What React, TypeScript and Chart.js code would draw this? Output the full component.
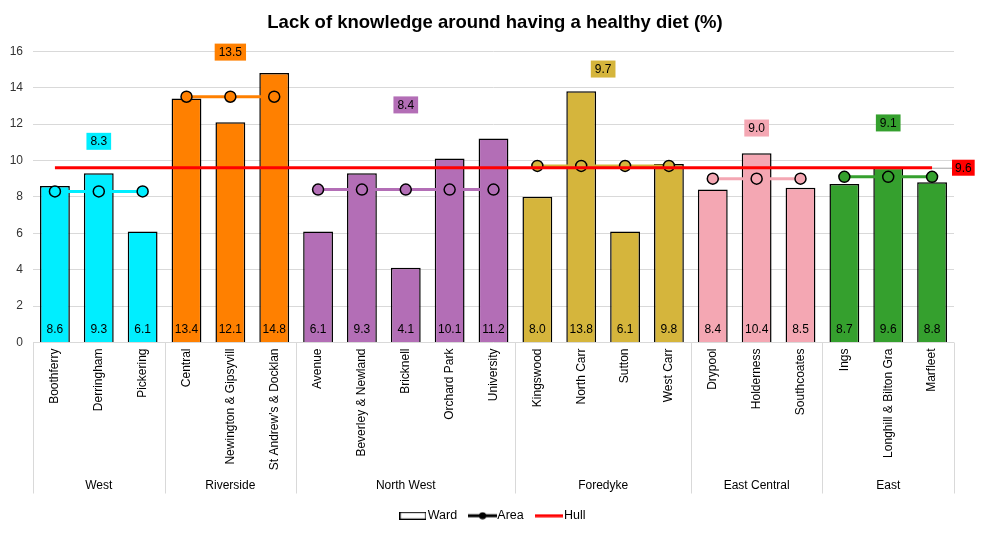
import React, { useEffect, useRef } from "react";
import { Chart, registerables } from "chart.js";

Chart.register(...registerables);

const titleText = "Lack of knowledge around having a healthy diet (%)";
const wards = [
  "Boothferry", "Derringham", "Pickering",
  "Central", "Newington & Gipsyvill", "St Andrew's & Docklan",
  "Avenue", "Beverley & Newland", "Bricknell", "Orchard Park", "University",
  "Kingswood", "North Carr", "Sutton", "West Carr",
  "Drypool", "Holderness", "Southcoates",
  "Ings", "Longhill & Bilton Gra", "Marfleet",
];
const wardValues = [
  8.6, 9.3, 6.1,
  13.4, 12.1, 14.8,
  6.1, 9.3, 4.1, 10.1, 11.2,
  8.0, 13.8, 6.1, 9.8,
  8.4, 10.4, 8.5,
  8.7, 9.6, 8.8,
];
const groups = ["West", "Riverside", "North West", "Foredyke", "East Central", "East"];
const groupSizes = [3, 3, 5, 4, 3, 3];
const areaValues = [8.3, 13.5, 8.4, 9.7, 9.0, 9.1];
const hullValue = 9.6;
const yTicks = [0, 2, 4, 6, 8, 10, 12, 14, 16];

const groupColors = ["#00EEFF", "#FF8000", "#B36EB6", "#D5B53C", "#F4A7B3", "#35A02E"];
const FONT = '"Liberation Sans", Arial, sans-serif';

const groupStarts: number[] = [];
{
  let s = 0;
  groupSizes.forEach((n) => { groupStarts.push(s); s += n; });
}
const groupOf = (i: number) => {
  let g = 0;
  for (let k = 0; k < groupStarts.length; k++) if (i >= groupStarts[k]) g = k;
  return g;
};

const decorPlugin = {
  id: "decor",
  afterDatasetsDraw(chart: any, _args: any, opts: any) {
    const { ctx, chartArea, scales } = chart;
    const x = scales.x, y = scales.y;
    ctx.save();
    ctx.font = `12px ${FONT}`;
    ctx.textAlign = "center";
    ctx.textBaseline = "middle";
    // ward values at bar bottoms
    ctx.fillStyle = "#000";
    wardValues.forEach((v, i) => {
      ctx.fillText(v.toFixed(1), x.getPixelForValue(i), chartArea.bottom - 13);
    });
    // area labels
    groups.forEach((_g, gi) => {
      const s = groupStarts[gi];
      const n = groupSizes[gi];
      const cx = (x.getPixelForValue(s) + x.getPixelForValue(s + n - 1)) / 2;
      const cy = y.getPixelForValue(opts.labelY[gi]);
      const txt = areaValues[gi].toFixed(1);
      const w = ctx.measureText(txt).width + 8;
      const h = 17;
      ctx.fillStyle = groupColors[gi];
      ctx.fillRect(cx - w / 2, cy - h / 2, w, h);
      ctx.fillStyle = "#000";
      ctx.fillText(txt, cx, cy + 0.5);
    });
    // hull label
    const hy = y.getPixelForValue(hullValue);
    const lastX = x.getPixelForValue(wards.length - 1);
    const htxt = hullValue.toFixed(1);
    const hw = ctx.measureText(htxt).width + 6;
    const bx = chartArea.right - 2;
    ctx.strokeStyle = "#A6A6A6";
    ctx.lineWidth = 1;
    ctx.beginPath();
    ctx.moveTo(lastX, hy + 0.5);
    ctx.lineTo(bx, hy + 0.5);
    ctx.stroke();
    ctx.fillStyle = "#FF0000";
    ctx.fillRect(bx, hy - 8, hw, 16);
    ctx.fillStyle = "#000";
    ctx.fillText(htxt, bx + hw / 2, hy + 0.5);
    ctx.restore();
  },
  afterDraw(chart: any) {
    const { ctx, chartArea, scales } = chart;
    const x = scales.x;
    ctx.save();
    ctx.strokeStyle = "#D9D9D9";
    ctx.lineWidth = 1;
    const bottom = chartArea.bottom + 151;
    const bounds: number[] = [chartArea.left];
    groupStarts.slice(1).forEach((s) => {
      bounds.push((x.getPixelForValue(s - 1) + x.getPixelForValue(s)) / 2);
    });
    bounds.push(chartArea.right);
    bounds.forEach((bx) => {
      const px = Math.round(bx) + 0.5;
      ctx.beginPath();
      ctx.moveTo(px, chartArea.bottom);
      ctx.lineTo(px, bottom);
      ctx.stroke();
    });
    ctx.font = `12px ${FONT}`;
    ctx.fillStyle = "#000";
    ctx.textAlign = "center";
    ctx.textBaseline = "middle";
    groups.forEach((g, gi) => {
      ctx.fillText(g, (bounds[gi] + bounds[gi + 1]) / 2, bottom - 8);
    });
    ctx.restore();
  },
};

function makeLegendIcons() {
  const ward = document.createElement("canvas");
  ward.width = 27; ward.height = 8;
  let c = ward.getContext("2d")!;
  c.fillStyle = "#fff";
  c.fillRect(0, 0, 27, 8);
  c.strokeStyle = "#000";
  c.lineWidth = 1.2;
  c.strokeRect(0.6, 0.6, 25.8, 6.8);

  const area = document.createElement("canvas");
  area.width = 29; area.height = 8;
  c = area.getContext("2d")!;
  c.strokeStyle = "#000";
  c.lineWidth = 3;
  c.beginPath(); c.moveTo(0, 4); c.lineTo(29, 4); c.stroke();
  c.fillStyle = "#000";
  c.beginPath(); c.arc(14.5, 4, 3.6, 0, Math.PI * 2); c.fill();

  const hull = document.createElement("canvas");
  hull.width = 28; hull.height = 4;
  c = hull.getContext("2d")!;
  c.fillStyle = "#FF0000";
  c.fillRect(0, 0.5, 28, 3);
  return { ward, area, hull };
}

export default function App() {
  const ref = useRef<HTMLCanvasElement | null>(null);
  useEffect(() => {
    if (!ref.current) return;
    const icons = makeLegendIcons();
    const areaDatasets = groups.map((g, gi) => ({
      type: "line" as const,
      label: `Area ${g}`,
      data: wards.map((_w, i) => (groupOf(i) === gi ? areaValues[gi] : null)),
      borderColor: groupColors[gi],
      backgroundColor: groupColors[gi],
      borderWidth: 3,
      pointRadius: 5.5,
      pointBorderWidth: 1.5,
      pointBorderColor: "#000",
      pointBackgroundColor: groupColors[gi],
      spanGaps: false,
      order: 1,
    }));
    const chart = new Chart(ref.current, {
      type: "bar",
      data: {
        labels: wards,
        datasets: [
          {
            type: "bar",
            label: "Ward",
            data: wardValues,
            backgroundColor: wardValues.map((_v, i) => groupColors[groupOf(i)]),
            borderColor: "#000",
            borderWidth: 1.5,
            barPercentage: 0.68,
            categoryPercentage: 1,
            order: 2,
          } as any,
          ...areaDatasets,
          {
            type: "line",
            label: "Hull",
            data: wards.map(() => hullValue),
            borderColor: "#FF0000",
            backgroundColor: "#FF0000",
            borderWidth: 3,
            pointRadius: 0,
            order: 0,
          },
        ],
      },
      options: {
        responsive: false,
        animation: false,
        devicePixelRatio: 1,
        layout: { padding: { left: 0, right: 0, top: 0, bottom: 1 } },
        plugins: {
          title: {
            display: true,
            text: titleText,
            color: "#000",
            font: { family: FONT, size: 18.5, weight: "bold" },
            padding: { top: 12, bottom: 17 },
          },
          legend: {
            display: true,
            position: "bottom",
            labels: {
              usePointStyle: true,
              pointStyleWidth: 17,
              padding: 17,
              color: "#000",
              font: { family: FONT, size: 12.5 },
              generateLabels: () => [
                { text: "Ward", pointStyle: icons.ward, fillStyle: "#fff", strokeStyle: "#000", lineWidth: 0, hidden: false, datasetIndex: 0 },
                { text: "Area", pointStyle: icons.area, fillStyle: "#000", strokeStyle: "#000", lineWidth: 0, hidden: false, datasetIndex: 1 },
                { text: "Hull", pointStyle: icons.hull, fillStyle: "#f00", strokeStyle: "#f00", lineWidth: 0, hidden: false, datasetIndex: 7 },
              ] as any,
            },
            onClick: () => {},
          },
          tooltip: { enabled: false },
          decor: { labelY: [11.05, 15.95, 13.05, 15.02, 11.78, 12.06] },
        } as any,
        scales: {
          x: {
            offset: true,
            grid: { display: false },
            border: { display: false },
            ticks: {
              autoSkip: false,
              minRotation: 90,
              maxRotation: 90,
              padding: -2,
              color: "#000",
              font: { family: FONT, size: 12 },
            },
            afterFit: (s: any) => { s.height = 150; },
          },
          y: {
            min: 0,
            max: 16,
            afterBuildTicks: (s: any) => { s.ticks = yTicks.map((v) => ({ value: v })); },
            grid: { color: "#D9D9D9", lineWidth: 1, drawTicks: false },
            border: { display: false },
            ticks: {
              padding: 10,
              color: "#333",
              font: { family: FONT, size: 12 },
            },
            afterFit: (s: any) => { s.width = 33; },
          },
          yRight: {
            position: "right",
            display: true,
            grid: { display: false, drawTicks: false },
            border: { display: false },
            ticks: { display: false },
            afterFit: (s: any) => { s.width = 36; },
          },
        },
      },
      plugins: [decorPlugin],
    });
    return () => chart.destroy();
  }, []);
  return (
    <div style={{ position: "absolute", left: 0, top: 0, width: 990, height: 533, background: "#fff" }}>
      <canvas ref={ref} width={990} height={533} />
    </div>
  );
}
